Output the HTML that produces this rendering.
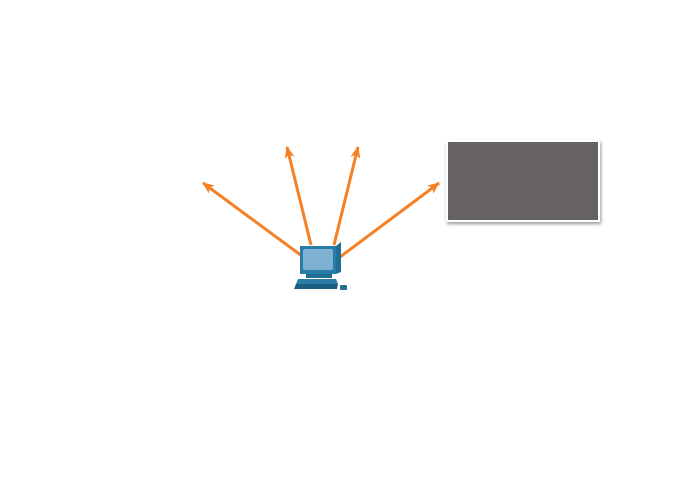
<!DOCTYPE html>
<html><head><meta charset="utf-8"><style>
html,body{margin:0;padding:0;background:#fff;width:680px;height:490px;overflow:hidden}
</style></head><body>
<svg width="680" height="490" viewBox="0 0 680 490" xmlns="http://www.w3.org/2000/svg">
<defs>
<marker id="a" markerWidth="12" markerHeight="10" refX="11" refY="5" orient="auto" markerUnits="userSpaceOnUse">
<path d="M0,0 L12,5 L0,10 L3,5 Z" fill="#f58025"/>
</marker>
<filter id="s" x="-10%" y="-10%" width="130%" height="130%"><feDropShadow dx="1" dy="2" stdDeviation="1.5" flood-color="#000" flood-opacity="0.4"/></filter>
</defs>
<g stroke="#f58025" stroke-width="3" fill="none" marker-end="url(#a)">
<line x1="302" y1="256" x2="203" y2="183"/>
<line x1="311" y1="245" x2="287" y2="147"/>
<line x1="334" y1="245" x2="358" y2="147"/>
<line x1="340" y1="257" x2="439" y2="183"/>
</g>
<rect x="446" y="140" width="154" height="82" fill="#fff" filter="url(#s)"/>
<rect x="448" y="142" width="150" height="78" fill="#666262"/>
<!-- computer -->
<polygon points="300,246 336,246 341,242 341,272 336,274 300,274" fill="#1f6e96"/>
<rect x="300" y="246" width="36" height="28" fill="#2a7ca8"/>
<rect x="303" y="249" width="30" height="21" rx="2" fill="#7fb2d2"/>
<rect x="306" y="274" width="26" height="4" fill="#1f6e96"/>
<polygon points="298,279 336,279 338,284 296,284" fill="#2a7ca8"/>
<polygon points="296,284 338,284 337,289 294,289" fill="#1a5f82"/>
<rect x="340" y="285" width="7" height="5" rx="1" fill="#1f6e96"/>
</svg>
</body></html>
